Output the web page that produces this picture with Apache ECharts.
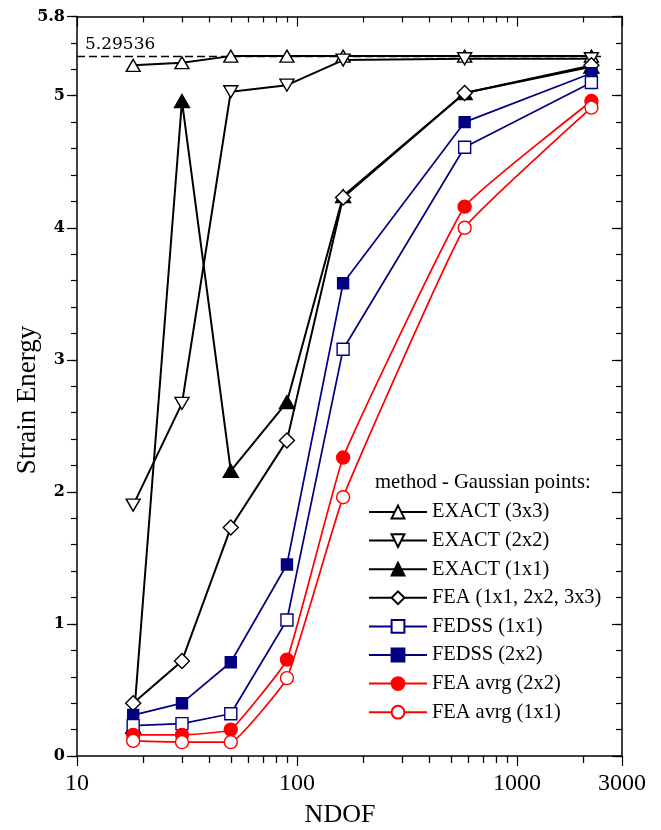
<!DOCTYPE html>
<html><head><meta charset="utf-8">
<script src="https://cdn.jsdelivr.net/npm/echarts@6/dist/echarts.min.js"></script>
<style>html,body{margin:0;padding:0;background:#fff}#c{width:661px;height:830px}</style>
</head><body><div id="c"></div>
<script>
// ---- data ----
const ndof = [18, 30, 50, 90, 162, 578, 2178];
const exact3x3 = [5.23, 5.25, 5.30, 5.30, 5.30, 5.30, 5.30];
const exact2x2 = [1.90, 2.67, 5.03, 5.08, 5.27, 5.28, 5.28];
const exact1x1 = [0.22, 4.96, 2.16, 2.68, 4.24, 5.02, 5.22];
const fea = [0.40, 0.72, 1.73, 2.39, 4.23, 5.02, 5.23];
const fedss1x1 = [0.23, 0.245, 0.32, 1.03, 3.08, 4.61, 5.10];
const fedss2x2 = [0.31, 0.40, 0.71, 1.45, 3.58, 4.80, 5.17];
const feaAvrg2x2 = [0.16, 0.16, 0.20, 0.73, 2.26, 4.16, 4.96];
const feaAvrg1x1 = [0.115, 0.105, 0.105, 0.59, 1.96, 4.00, 4.91];
const referenceEnergy = 5.29536;
const referenceLineEnd = 2500;
const xMin = 10, xMax = 3000;
const yMin = 0, yMax = 5.6;
const yTopLabel = '5.8';
const xMinorTicks = [20, 30, 40, 50, 60, 70, 80, 90, 200, 300, 400, 500, 600, 700, 800, 900, 2000];
const legendNames = ['EXACT (3x3)', 'EXACT (2x2)', 'EXACT (1x1)', 'FEA (1x1, 2x2, 3x3)',
  'FEDSS (1x1)', 'FEDSS (2x2)', 'FEA avrg (2x2)', 'FEA avrg (1x1)'];
const legendTitle = 'method - Gaussian points:';
const xName = 'NDOF', yName = 'Strain Energy';

// ---- styles ----
const SERIF = 'Liberation Serif';
const NAVY = '#000080', RED = '#ff0000', BLACK = '#000000';

function pts(vals) { return ndof.map((x, i) => [x, vals[i]]); }
function mk(name, vals, symbol, size, color, filled, lw, extra) {
  return Object.assign({
    name, type: 'line', data: pts(vals), xAxisIndex: 0, yAxisIndex: 0,
    symbol, symbolSize: size, showAllSymbol: true,
    lineStyle: { color, width: lw },
    itemStyle: { color: filled ? color : '#ffffff', borderColor: color, borderWidth: 1.4 },
    emphasis: { disabled: true }
  }, extra || {});
}

const series = [
  mk(legendNames[0], exact3x3, 'triangle', [14, 12], BLACK, false, 2, {
    markLine: {
      silent: true, symbol: 'none', z: 1,
      lineStyle: { color: BLACK, width: 1.4, type: [8, 4] },
      label: { show: true, position: 'insideStartTop', formatter: String(referenceEnergy),
        fontFamily: 'DejaVu Serif', fontSize: 17, color: BLACK, distance: 4, offset: [4, 0] },
      data: [[{ coord: [xMin, referenceEnergy] }, { coord: [referenceLineEnd, referenceEnergy] }]]
    }
  }),
  mk(legendNames[1], exact2x2, 'triangle', [14, 12], BLACK, false, 2, { symbolRotate: 180 }),
  mk(legendNames[2], exact1x1, 'triangle', [15, 13], BLACK, true, 2),
  mk(legendNames[3], fea, 'diamond', [15, 15], BLACK, false, 2),
  mk(legendNames[5], fedss2x2, 'rect', [11, 11], NAVY, true, 1.7),
  mk(legendNames[4], fedss1x1, 'rect', [12, 12], NAVY, false, 1.7),
  mk(legendNames[6], feaAvrg2x2, 'circle', 13, RED, true, 1.7, { smooth: 0.1 }),
  mk(legendNames[7], feaAvrg1x1, 'circle', 13, RED, false, 1.7, { smooth: 0.1 })
];

const axisLine = { show: true, onZero: false, lineStyle: { color: BLACK, width: 1.5 } };
function yAx(pos, interval, len, inside, showLine, labels) {
  return {
    type: 'value', position: pos, min: yMin, max: yMax, interval,
    axisLine: showLine ? axisLine : { show: false },
    axisTick: { show: true, inside, length: len, lineStyle: { color: BLACK, width: 1.2 } },
    splitLine: { show: false },
    axisLabel: labels ? {
      show: true, margin: 12, fontFamily: 'DejaVu Serif', fontWeight: 'bold', fontSize: 16, color: BLACK,
      formatter: v => (Math.abs(v - yMax) < 1e-6 ? yTopLabel : String(Math.round(v)))
    } : { show: false }
  };
}

const option = {
  animation: false,
  backgroundColor: '#fff',
  grid: { left: 77, right: 39, top: 16.5, bottom: 74, containLabel: false },
  title: { text: legendTitle, left: 375, top: 472, padding: 0,
    textStyle: { fontFamily: SERIF, fontSize: 20.6, fontWeight: 'normal', color: BLACK } },
  legend: {
    data: legendNames, orient: 'vertical', left: 368, top: 502, padding: 0,
    itemWidth: 58, itemHeight: 16, itemGap: 8.6, selectedMode: false,
    textStyle: { fontFamily: SERIF, fontSize: 20.4, color: BLACK, lineHeight: 20 }
  },
  xAxis: [
    { type: 'log', logBase: 10, min: xMin, max: xMax, position: 'bottom',
      axisLine, splitLine: { show: false },
      axisTick: { show: true, inside: false, length: 10, lineStyle: { color: BLACK, width: 1.2 } },
      axisLabel: { margin: 16, fontFamily: SERIF, fontSize: 24, color: BLACK,
        formatter: v => String(Math.round(v)) } },
    { type: 'log', logBase: 10, min: xMin, max: xMax, position: 'top',
      axisLine, splitLine: { show: false },
      axisTick: { show: true, inside: true, length: 10, lineStyle: { color: BLACK, width: 1.2 } },
      axisLabel: { show: false } }
  ],
  yAxis: [
    yAx('left', 1, 10, false, true, true),
    yAx('left', 0.2, 6, false, false, false),
    yAx('right', 0.2, 6, true, true, false),
    yAx('right', 1, 10, true, false, false)
  ],
  series
};
const chart = echarts.init(document.getElementById('c'), null, { renderer: 'canvas' });
chart.setOption(option);

// minor log ticks on bottom (outward) and top (inward), placed through the axis scale
const yBottomPx = chart.convertToPixel({ yAxisIndex: 0 }, yMin);
const yTopPx = chart.convertToPixel({ yAxisIndex: 0 }, yMax);
const graphics = [];
xMinorTicks.forEach(v => {
  const px = Math.round(chart.convertToPixel({ xAxisIndex: 0 }, v)) + 0.5;
  graphics.push({ type: 'line', silent: true, z: 10, shape: { x1: px, y1: yBottomPx, x2: px, y2: yBottomPx + 7 }, style: { stroke: BLACK, lineWidth: 1.3 } });
  graphics.push({ type: 'line', silent: true, z: 10, shape: { x1: px, y1: yTopPx, x2: px, y2: yTopPx + 6 }, style: { stroke: BLACK, lineWidth: 1.2 } });
});
graphics.push({ type: 'text', x: 28, y: 400, rotation: Math.PI / 2,
  style: { text: yName, fontFamily: SERIF, fontSize: 27, fill: BLACK, textAlign: 'center', textVerticalAlign: 'middle' } });
graphics.push({ type: 'text', x: 340, y: 815,
  style: { text: xName, fontFamily: SERIF, fontSize: 26, fill: BLACK, textAlign: 'center', textVerticalAlign: 'middle' } });
chart.setOption({ graphic: graphics });
</script>
</body></html>
